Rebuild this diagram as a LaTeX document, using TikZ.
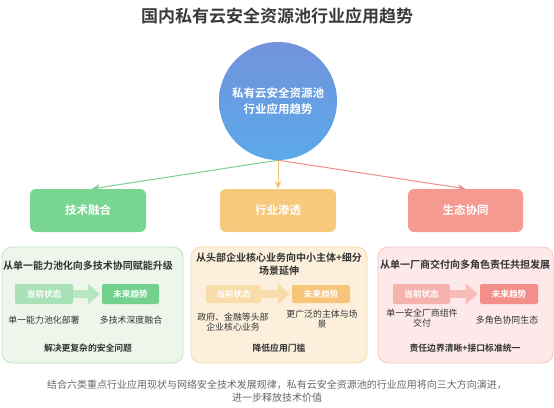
\documentclass[tikz,border=0pt]{standalone}
\usepackage{fontspec}
\setmainfont{Noto Sans CJK SC}[BoldFont={Noto Sans CJK SC Bold}]
\usetikzlibrary{arrows.meta}

\definecolor{titlegray}{HTML}{3A3A3A}
\definecolor{txtdark}{HTML}{333333}
\definecolor{footgray}{HTML}{666666}
\definecolor{hubtop}{HTML}{7293DC}
\definecolor{hubbot}{HTML}{5BA9EA}
% 绿色
\definecolor{grnline}{HTML}{7CCF8E}
\definecolor{grnbox}{HTML}{78D692}
\definecolor{grnpanel}{HTML}{EEF6EC}
\definecolor{grnborder}{HTML}{BDE3C1}
\definecolor{grncur}{HTML}{A9E1B6}
\definecolor{grnfut}{HTML}{72D18C}
\definecolor{grnarr}{HTML}{B8E6C0}
% 橙色
\definecolor{orgline}{HTML}{F4C27A}
\definecolor{orgbox}{HTML}{F7C97C}
\definecolor{orgpanel}{HTML}{FCF0DD}
\definecolor{orgborder}{HTML}{F5D9A3}
\definecolor{orgcur}{HTML}{F8DCA9}
\definecolor{orgfut}{HTML}{F6C57A}
\definecolor{orgarr}{HTML}{F8DCAC}
% 红色
\definecolor{redline}{HTML}{EE8E88}
\definecolor{redbox}{HTML}{F59A90}
\definecolor{redpanel}{HTML}{FDE9E9}
\definecolor{redborder}{HTML}{F6C2C2}
\definecolor{redcur}{HTML}{F6B3AE}
\definecolor{redfut}{HTML}{F38F88}
\definecolor{redarr}{HTML}{F7BCB8}

\begin{document}
\begin{tikzpicture}[x=1pt, y=-1pt,
  every node/.style={inner sep=0pt, text=txtdark, align=center},
  hub/.style={circle, minimum size=118pt, top color=hubtop, bottom color=hubbot, text=white, font=\fontsize{11.5}{16}\selectfont\bfseries},
  catbox/.style={rounded corners=6pt, fill=#1, minimum width=116pt, minimum height=43pt, text=white, font=\fontsize{11.5}{14}\selectfont\bfseries},
  panel/.style={rounded corners=10pt, draw=#1, line width=0.8pt, minimum width=178pt, minimum height=116pt},
  statebox/.style={rounded corners=2pt, fill=#1, minimum width=57pt, minimum height=20pt, text=white, font=\fontsize{8.7}{10}\selectfont\bfseries},
  heading/.style={font=\fontsize{10}{13}\selectfont\bfseries},
  desc/.style={font=\fontsize{8.9}{10.5}\selectfont},
  result/.style={font=\fontsize{8.8}{11}\selectfont\bfseries},
  link/.style={draw=#1, line width=1pt, -{Stealth[length=8pt, width=7pt]}},
  blockarrow/.style={draw=#1, line width=8pt, shorten >=2pt, -{Triangle[length=12pt, width=20pt]}}]

  \useasboundingbox (0,0) rectangle (554,407);

  % 标题与中心圆
  \node[text=titlegray, font=\fontsize{17}{20}\selectfont\bfseries] (title) at (277,16) {国内私有云安全资源池行业应用趋势};
  \node[hub] (hub) at (278,101) {私有云安全资源池\\行业应用趋势};

  % 三个方向
  \node[catbox=grnbox] (tech) at (88,210.5) {技术融合};
  \node[catbox=orgbox] (ind) at (278,210.5) {行业渗透};
  \node[catbox=redbox, minimum width=115pt] (eco) at (465.5,210.5) {生态协同};

  \draw[link=grnline] (hub.south) -- ([xshift=4pt]tech.north);
  \draw[link=orgline] (hub.south) -- (ind.north);
  \draw[link=redline] (hub.south) -- (eco.north);

  % 底部面板
  \node[panel=grnborder, fill=grnpanel, minimum width=181pt] (ptech) at (92.5,305) {};
  \node[panel=orgborder, fill=orgpanel, minimum width=176pt] (pind) at (279,305) {};
  \node[panel=redborder, fill=redpanel, minimum width=175pt] (peco) at (465.5,305) {};

  % 技术融合
  \node[heading] (htech) at (88,266) {从单一能力池化向多技术协同赋能升级};
  \node[statebox=grncur, minimum width=58pt] (tcur) at (44,294) {当前状态};
  \node[statebox=grnfut] (tfut) at (130.5,294) {未来趋势};
  \draw[blockarrow=grnarr] (tcur.east) -- (tfut.west);
  \node[desc] (dtcur) at (44,320) {单一能力池化部署};
  \node[desc] (dtfut) at (131,320) {多技术深度融合};
  \node[result] (rtech) at (88,348) {解决更复杂的安全问题};

  % 行业渗透
  \node[heading] (hind) at (279,264.5) {从头部企业核心业务向中小主体+细分\\场景延伸};
  \node[statebox=orgcur, minimum width=55pt, minimum height=18pt] (icur) at (233.5,294) {当前状态};
  \node[statebox=orgfut, minimum width=58pt, minimum height=18pt] (ifut) at (321,294) {未来趋势};
  \draw[blockarrow=orgarr] (icur.east) -- (ifut.west);
  \node[desc] (dicur) at (233,322) {政府、金融等头部\\企业核心业务};
  \node[desc] (difut) at (322,319) {更广泛的主体与场\\景};
  \node[result] (rind) at (279,348) {降低应用门槛};

  % 生态协同
  \node[heading] (heco) at (465,265) {从单一厂商交付向多角色责任共担发展};
  \node[statebox=redcur] (ecur) at (421.5,294) {当前状态};
  \node[statebox=redfut, minimum width=58pt] (efut) at (509,294) {未来趋势};
  \draw[blockarrow=redarr] (ecur.east) -- (efut.west);
  \node[desc] (decur) at (422,318) {单一安全厂商组件\\交付};
  \node[desc] (defut) at (507,320) {多角色协同生态};
  \node[result] (reco) at (465,348) {责任边界清晰+接口标准统一};

  % 说明文字
  \node[text=footgray, font=\fontsize{10}{13}\selectfont] (foot) at (277,391.5) {结合六类重点行业应用现状与网络安全技术发展规律，私有云安全资源池的行业应用将向三大方向演进，\\进一步释放技术价值};

\end{tikzpicture}
\end{document}
